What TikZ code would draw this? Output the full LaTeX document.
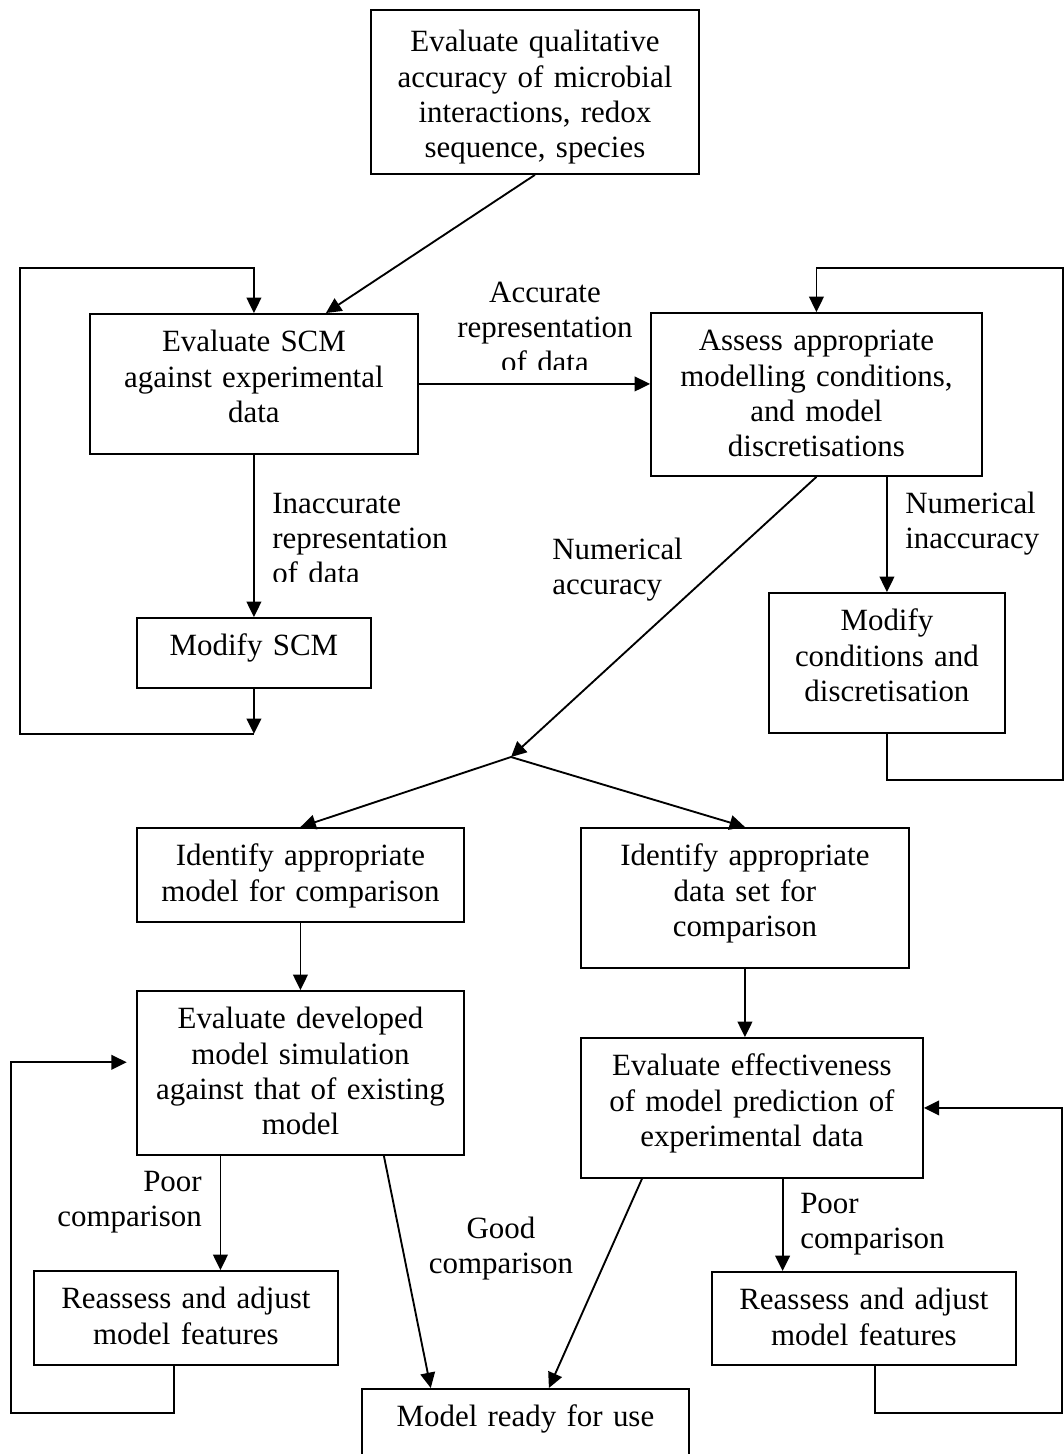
\documentclass[tikz,border=0pt]{standalone}
\usepackage{fontspec}
\setmainfont{Liberation Serif}
\usetikzlibrary{arrows.meta}
\tikzset{
  flowbox/.style={draw, line width=1.4pt, inner sep=0pt, anchor=north west,
    align=center, text height=28.5pt},
  flowlabel/.style={inner sep=0pt},
  flowarrow/.style={-{Triangle[length=11.5pt,width=11pt]}, line width=1.4pt},
}

\begin{document}
\begin{tikzpicture}[x=0.75pt, y=-0.75pt, font=\fontsize{23.2pt}{26.5pt}\selectfont]
  \useasboundingbox (0,0) rectangle (1064,1454);
  % boxes
  \node[flowbox, text width=246pt, text height=31.5pt, text depth=91.5pt] (qual) at (370,9)
    {Evaluate qualitative\\accuracy of microbial\\interactions, redox\\sequence, species};
  \node[flowbox, text width=246pt, text depth=76.5pt] (scm) at (89,313)
    {Evaluate SCM\\against experimental\\data};
  \node[flowbox, text width=175.5pt, text depth=24pt] (modscm) at (136,617) {Modify SCM};
  \node[flowbox, text width=248.25pt, text depth=93.75pt] (assess) at (650,312)
    {Assess appropriate\\modelling conditions,\\and model\\discretisations};
  \node[flowbox, text width=177pt, text depth=76.5pt] (modcond) at (768,592)
    {Modify\\conditions and\\discretisation};
  \node[flowbox, text width=245.25pt, text depth=42pt] (idmodel) at (136,827)
    {Identify appropriate\\model for comparison};
  \node[flowbox, text width=246pt, text depth=76.5pt] (iddata) at (580,827)
    {Identify appropriate\\data set for\\comparison};
  \node[flowbox, text width=245.25pt, text depth=94.5pt] (dev) at (136,990)
    {Evaluate developed\\model simulation\\against that of existing\\model};
  \node[flowbox, text width=256.5pt, text depth=76.5pt] (eff) at (580,1037)
    {Evaluate effectiveness\\of model prediction of\\experimental data};
  \node[flowbox, text width=228pt, text depth=42pt] (reL) at (33,1270)
    {Reassess and adjust\\model features};
  \node[flowbox, text width=228pt, text depth=41.25pt] (reR) at (711,1271)
    {Reassess and adjust\\model features};
  \node[flowbox, text width=245.25pt, text depth=42pt] (ready) at (361,1388) {Model ready for use};

  % labels
  \begin{scope}
    \clip (400,250) rectangle (700,369);
    \node[flowlabel, text width=140pt, align=center, anchor=base] (accl) at (545,302)
      {Accurate\\representation\\of data};
  \end{scope}
  \begin{scope}
    \clip (260,480) rectangle (460,581);
    \node[flowlabel, text width=140pt, align=left, anchor=base west] (inaccl) at (272,513)
      {Inaccurate\\representation\\of data};
  \end{scope}
  \node[flowlabel, text width=110pt, align=left, anchor=base west] (numaccl) at (552,559)
    {Numerical\\accuracy};
  \node[flowlabel, text width=110pt, align=left, anchor=base west] (numinl) at (905,513)
    {Numerical\\inaccuracy};
  \node[flowlabel, text width=110pt, align=right, anchor=base east] (poorl) at (202,1191)
    {Poor\\comparison};
  \node[flowlabel, text width=110pt, align=left, anchor=base west] (poorr) at (800,1213)
    {Poor\\comparison};
  \node[flowlabel, text width=110pt, align=center, anchor=base] (goodl) at (501,1238)
    {Good\\comparison};

  % connectors
  \coordinate (split) at (511,757);
  \draw[flowarrow] (qual.south) -- ([xshift=54pt]scm.north);
  \draw[flowarrow] (scm.east) -- (scm.east -| assess.west);
  \draw[flowarrow] (scm.south) -- (modscm.north);
  \draw[flowarrow] (modscm.south) -- ++(0,45) coordinate (scmback);
  \draw[flowarrow] (scmback) -- ++(-234,0) -- ++(0,-466) -| (scm.north);
  \draw[flowarrow] (assess.south -| modcond.north) -- (modcond.north);
  \draw[flowarrow] (modcond.south) -- ++(0,46) -- ++(176,0) -- ++(0,-512) -| (assess.north);
  \draw[flowarrow] (assess.south) -- (split);
  \draw[flowarrow] (split) -- (idmodel.north);
  \draw[flowarrow] (split) -- (iddata.north);
  \draw[flowarrow] (idmodel.south) -- (dev.north);
  \draw[flowarrow] (iddata.south) -- (iddata.south |- eff.north);
  \draw[flowarrow] ([xshift=-60pt]dev.south) -- ([xshift=-60pt]dev.south |- reL.north);
  \draw[flowarrow] ([xshift=-9pt]reL.south) -- ++(0,47) -- ++(-163,0) |- ([xshift=-7pt,yshift=8pt]dev.west);
  \draw[flowarrow] ([xshift=23pt]eff.south) -- ([xshift=23pt]eff.south |- reR.north);
  \draw[flowarrow] ([xshift=8pt]reR.south) -- ++(0,47) -- ++(187,0) |- (eff.east);
  \draw[flowarrow] ([xshift=62.6pt]dev.south) -- ([xshift=-71pt]ready.north);
  \draw[flowarrow] ([xshift=-82.5pt]eff.south) -- ([xshift=17.6pt]ready.north);
\end{tikzpicture}
\end{document}
